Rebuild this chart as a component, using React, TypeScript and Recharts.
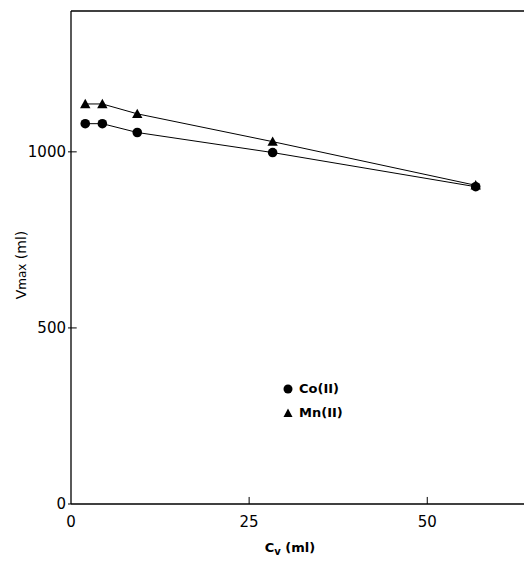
import React from "react";
import { LineChart, Line, XAxis, YAxis, ReferenceLine, Label } from "recharts";

const cvValues = [2.0, 4.4, 9.3, 28.3, 56.8];
const coValues = [1080, 1080, 1055, 998, 901];
const mnValues = [1136, 1136, 1108, 1029, 905];
const xTicks = [0, 25, 50];
const yTicks = [0, 500, 1000];
const seriesNames = ["Co(II)", "Mn(II)"];

const data = cvValues.map((x, i) => ({ x, co: coValues[i], mn: mnValues[i] }));

const FONT = "DejaVu Sans";

const CircleDot = (props: any) => {
  const { cx, cy } = props;
  if (cx == null || cy == null) return null;
  return <circle cx={cx} cy={cy} r={4.8} fill="#000" />;
};

const TriDot = (props: any) => {
  const { cx, cy } = props;
  if (cx == null || cy == null) return null;
  const s = 5.2;
  return <polygon points={`${cx},${cy - s} ${cx - s},${cy + s * 0.8} ${cx + s},${cy + s * 0.8}`} fill="#000" />;
};

const XLabel = (props: any) => {
  const vb = props.viewBox || {};
  const x = vb.x + vb.width / 2 - 9;
  return (
    <text x={x} y={552} textAnchor="middle" fontFamily={FONT} fontSize={13} fill="#000" fontWeight="bold">
      C<tspan fontSize={10} dy={3}>v</tspan>
      <tspan dy={-3}> (ml)</tspan>
    </text>
  );
};

const YLabel = () => {
  return (
    <text x={0} y={0} transform="translate(26,265) rotate(-90)" textAnchor="middle" fontFamily={FONT} fontSize={14} fill="#000">
      V<tspan fontSize={12}>max</tspan> (ml)
    </text>
  );
};

const LegendBox = () => (
  <div style={{ position: "absolute", left: 282, top: 377, fontFamily: FONT, fontSize: 13, fontWeight: "bold", color: "#000", lineHeight: "24px" }}>
    <div style={{ display: "flex", alignItems: "center" }}>
      <svg width={12} height={12} style={{ marginRight: 5 }}>
        <circle cx={6} cy={6} r={4.5} fill="#000" />
      </svg>
      {seriesNames[0]}
    </div>
    <div style={{ display: "flex", alignItems: "center" }}>
      <svg width={12} height={12} style={{ marginRight: 5 }}>
        <polygon points="6,1.5 1.5,10 10.5,10" fill="#000" />
      </svg>
      {seriesNames[1]}
    </div>
  </div>
);

export default function App() {
  return (
    <div style={{ position: "absolute", left: 0, top: 0, width: 524, height: 561, overflow: "hidden", background: "#fff" }}>
      <LineChart width={527} height={561} data={data} margin={{ top: 11, right: 0, left: 0, bottom: 27 }}>
        <XAxis
          type="number"
          dataKey="x"
          domain={[0, 64]}
          ticks={xTicks}
          tickLine={false}
          tickMargin={6}
          height={30}
          axisLine={{ stroke: "#000", strokeWidth: 1.3 }}
          tick={{ fill: "#000", fontFamily: FONT, fontSize: 15 }}
          allowDataOverflow
        >
          <Label content={<XLabel />} />
        </XAxis>
        <YAxis
          type="number"
          domain={[0, 1400]}
          ticks={yTicks}
          width={71}
          tickSize={3}
          tickMargin={2}
          axisLine={{ stroke: "#000", strokeWidth: 1.3 }}
          tickLine={{ stroke: "#000" }}
          tick={{ fill: "#000", fontFamily: FONT, fontSize: 15 }}
        >
          <Label content={<YLabel />} />
        </YAxis>
        <ReferenceLine y={1400} stroke="#000" strokeWidth={1.3} ifOverflow="visible" />
        {xTicks.slice(1).map((t) => (
          <ReferenceLine key={`xt${t}`} segment={[{ x: t, y: 0 }, { x: t, y: 20 }]} stroke="#000" ifOverflow="visible" />
        ))}
        {yTicks.slice(1).map((t) => (
          <ReferenceLine key={`yt${t}`} segment={[{ x: 0, y: t }, { x: 0.8, y: t }]} stroke="#000" ifOverflow="visible" />
        ))}
        <Line
          type="linear"
          dataKey="co"
          name={seriesNames[0]}
          stroke="#000"
          strokeWidth={1}
          dot={<CircleDot />}
          activeDot={false}
          isAnimationActive={false}
        />
        <Line
          type="linear"
          dataKey="mn"
          name={seriesNames[1]}
          stroke="#000"
          strokeWidth={1}
          dot={<TriDot />}
          activeDot={false}
          isAnimationActive={false}
        />
      </LineChart>
      <LegendBox />
    </div>
  );
}
